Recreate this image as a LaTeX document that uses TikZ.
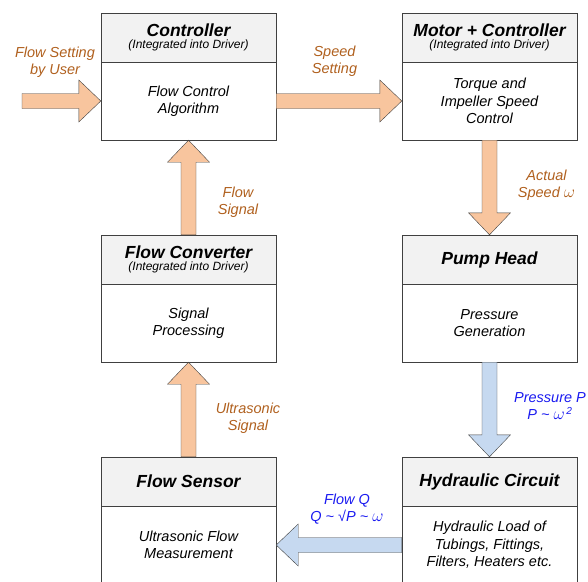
\documentclass[tikz,border=0pt]{standalone}
\usepackage{fontspec}
\setmainfont{Liberation Sans}
\usetikzlibrary{calc}

\definecolor{arrowOrange}{HTML}{F8C59E}
\definecolor{arrowBlue}{HTML}{C6D9F0}
\definecolor{headGray}{HTML}{F2F2F2}
\definecolor{lineGray}{HTML}{404040}
\definecolor{textOrange}{HTML}{B0601E}
\definecolor{textBlue}{HTML}{1A1AF0}

\newcommand{\titlefont}{\fontsize{17.5}{14}\selectfont\bfseries\itshape}
\newcommand{\subfont}{\fontsize{12}{12}\selectfont\itshape}
\newcommand{\bodyfont}{\fontsize{14.5}{17.5}\selectfont\itshape}
\newcommand{\omg}{{\fontsize{18}{18}\selectfont$\omega$}}

% fat arrow from #2 to #3
\newcommand{\blockarrow}[3][]{%
  \coordinate (hb) at ($(#3)!22pt!(#2)$);
  \draw[#1] ($(#2)!7.5pt!90:(#3)$) -- ($(hb)!7.5pt!-90:(#2)$)
    -- ($(hb)!21pt!-90:(#2)$) -- (#3) -- ($(hb)!21pt!90:(#2)$)
    -- ($(hb)!7.5pt!90:(#2)$) -- ($(#2)!7.5pt!-90:(#3)$) -- cycle;}

\begin{document}
\begin{tikzpicture}[x=1pt, y=-1pt,
    head/.style={draw=lineGray, fill=headGray, minimum width=175pt,
      minimum height=49pt, inner sep=0pt, align=center},
    body/.style={draw=lineGray, fill=white, minimum width=175pt,
      minimum height=78pt, inner sep=0pt, align=center, font=\bodyfont},
    orangelab/.style={align=center, font=\bodyfont, text=textOrange},
    bluelab/.style={align=center, font=\bodyfont, text=textBlue},
    orangearrow/.style={draw=lineGray, fill=arrowOrange, line join=miter},
    bluearrow/.style={draw=lineGray, fill=arrowBlue, line join=miter}]

    \clip (0,0) rectangle (588,581);

    % boxes
    \node[head] (ctrlH) at (188.5,37.5) {{\titlefont Controller}\\{\subfont (Integrated into Driver)}};
    \node[body] (ctrl) at (188.5,101) {Flow Control\\Algorithm};

    \node[head] (motorH) at (489.5,37.5) {{\titlefont Motor + Controller}\\{\subfont (Integrated into Driver)}};
    \node[body] (motor) at (489.5,101) {Torque and\\Impeller Speed\\Control};

    \node[head] (convH) at (188.5,259.5) {{\titlefont Flow Converter}\\{\subfont (Integrated into Driver)}};
    \node[body] (conv) at (188.5,323) {Signal\\Processing};

    \node[head] (pumpH) at (489.5,259.5) {\titlefont Pump Head};
    \node[body] (pump) at (489.5,323) {Pressure\\Generation};

    \node[head] (sensH) at (188.5,481.5) {\titlefont Flow Sensor};
    \node[body] (sens) at (188.5,545) {Ultrasonic Flow\\Measurement};

    \node[head] (hydH) at (489.5,481.5) {\titlefont Hydraulic Circuit};
    \node[body] (hyd) at (489.5,545) {Hydraulic Load of\\Tubings, Fittings,\\Filters, Heaters etc.};

    % arrows
    \coordinate (user) at (22,101);
    \blockarrow[orangearrow]{user}{ctrl.west}
    \blockarrow[orangearrow]{ctrl.east}{motor.west}
    \blockarrow[orangearrow]{motor.south}{pumpH.north}
    \blockarrow[bluearrow]{pump.south}{hydH.north}
    \blockarrow[bluearrow]{hyd.west}{sens.east}
    \blockarrow[orangearrow]{sensH.north}{conv.south}
    \blockarrow[orangearrow]{convH.north}{ctrl.south}

    % labels
    \node[orangelab] (userLab) at (55,62) {Flow Setting\\by User};
    \node[orangelab] (speedLab) at (334.5,61) {Speed\\Setting};
    \node[orangelab] (actualLab) at (546.5,185) {Actual\\Speed \omg};
    \node[orangelab] (flowSigLab) at (238,202) {Flow\\Signal};
    \node[orangelab] (ultraLab) at (248,418) {Ultrasonic\\Signal};
    \node[bluelab] (pressLab) at (550,406) {Pressure P\\P \textasciitilde{} \omg\textsuperscript{\,2}};
    \node[bluelab] (flowQLab) at (347,509) {Flow Q\\Q \textasciitilde{} √P \textasciitilde{} \omg};

\end{tikzpicture}
\end{document}
